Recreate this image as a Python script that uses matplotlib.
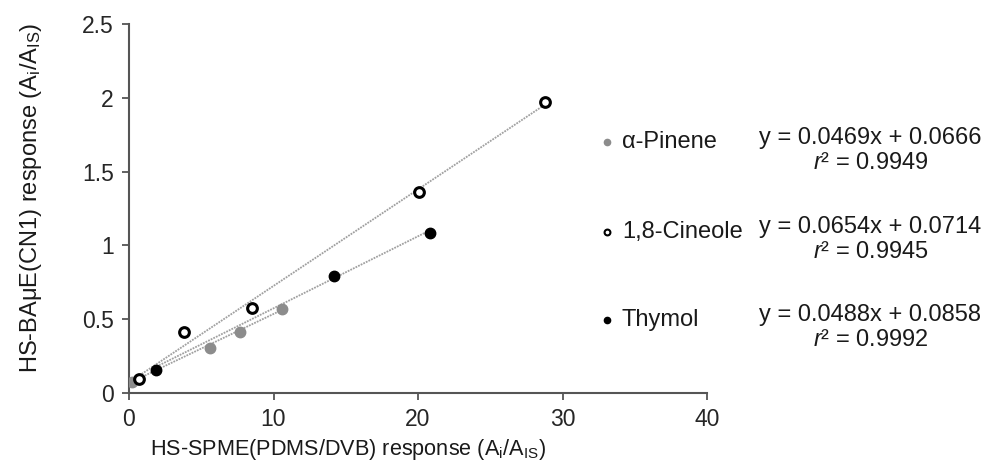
import numpy as np
import matplotlib.pyplot as plt
from matplotlib.ticker import FuncFormatter

plt.rcParams['font.family'] = ['Liberation Sans', 'DejaVu Sans']
plt.rcParams['mathtext.fontset'] = 'custom'
plt.rcParams['mathtext.rm'] = 'Liberation Sans'
plt.rcParams['mathtext.it'] = 'Liberation Sans:italic'

# данные
pinene_x = [0.19, 5.6, 7.7, 10.6]
pinene_y = [0.077, 0.307, 0.415, 0.567]
cineole_x = [0.71, 3.8, 8.5, 20.1, 28.8]
cineole_y = [0.093, 0.415, 0.574, 1.36, 1.97]
thymol_x = [1.9, 14.2, 20.8]
thymol_y = [0.158, 0.793, 1.082]

names = ['α-Pinene', '1,8-Cineole', 'Thymol']
slopes = [0.0469, 0.0654, 0.0488]
intercepts = [0.0666, 0.0714, 0.0858]
r2 = ['0.9949', '0.9945', '0.9992']

series = [(pinene_x, pinene_y), (cineole_x, cineole_y), (thymol_x, thymol_y)]
styles = [dict(mfc='#8c8c8c', mec='#8c8c8c', mew=1),
          dict(mfc='white', mec='black', mew=2.2),
          dict(mfc='black', mec='black', mew=1)]
sizes = [7.5, 7.0, 7.5]

W, H = 987, 468
fig = plt.figure(figsize=(W / 100, H / 100), dpi=100)
ax = fig.add_axes([129 / W, 1 - 393 / H, (707 - 129) / W, (393 - 24) / H])

# линии тренда
for (xs, ys), k, b in zip(series, slopes, intercepts):
    xx = np.array([min(xs), max(xs)])
    ax.plot(xx, k * xx + b, color='#a0a0a0', lw=1.3, ls=(0, (1, 0.6)), zorder=2)

for (xs, ys), st, ms in zip(series, styles, sizes):
    ax.plot(xs, ys, 'o', ms=ms, zorder=3, **st)

ax.set_xlim(0, 40)
ax.set_ylim(0, 2.5)
ax.set_xticks([0, 10, 20, 30, 40])
ax.set_yticks([0, 0.5, 1, 1.5, 2, 2.5])
ax.yaxis.set_major_formatter(FuncFormatter(lambda v, p: '%g' % v))
for s in ['top', 'right']:
    ax.spines[s].set_visible(False)
for s in ['left', 'bottom']:
    ax.spines[s].set_color('#555555')
    ax.spines[s].set_linewidth(1.5)
ax.tick_params(direction='out', length=5, width=1.3, color='#555555',
               labelsize=16.5, labelcolor='#262626', pad=6)

fig.text(31 / W, 1 - 198 / H, r'HS-BAμE(CN1) response ($\mathregular{A_i/A_{IS}}$)',
         rotation=90, ha='center', va='center', fontsize=17, color='#1a1a1a')
fig.text(348 / W, 1 - 450 / H, r'HS-SPME(PDMS/DVB) response ($\mathregular{A_i/A_{IS}}$)',
         ha='center', va='center', fontsize=15.6, color='#1a1a1a')

# легенда и уравнения
label_y = [142, 232, 320]
eq_y = [138, 227, 315]
for i in range(3):
    fig.lines.append(plt.Line2D([607 / W], [1 - label_y[i] / H], marker='o',
                                ms=4.5 if i != 1 else 4.2, transform=fig.transFigure,
                                mfc=styles[i]['mfc'], mec=styles[i]['mec'],
                                mew=1.5 if i == 1 else 1))
    fig.text(622 / W, 1 - label_y[i] / H, names[i], ha='left', va='center',
             fontsize=17, color='#1a1a1a')
    fig.text(870 / W, 1 - eq_y[i] / H, 'y = %.4fx + %.4f' % (slopes[i], intercepts[i]),
             ha='center', va='center', fontsize=17, color='#1a1a1a')
    fig.text(871 / W, 1 - (eq_y[i] + 25) / H, r'$\mathit{r}$² = ' + r2[i],
             ha='center', va='center', fontsize=17, color='#1a1a1a')

plt.savefig('out.png', dpi=100)
